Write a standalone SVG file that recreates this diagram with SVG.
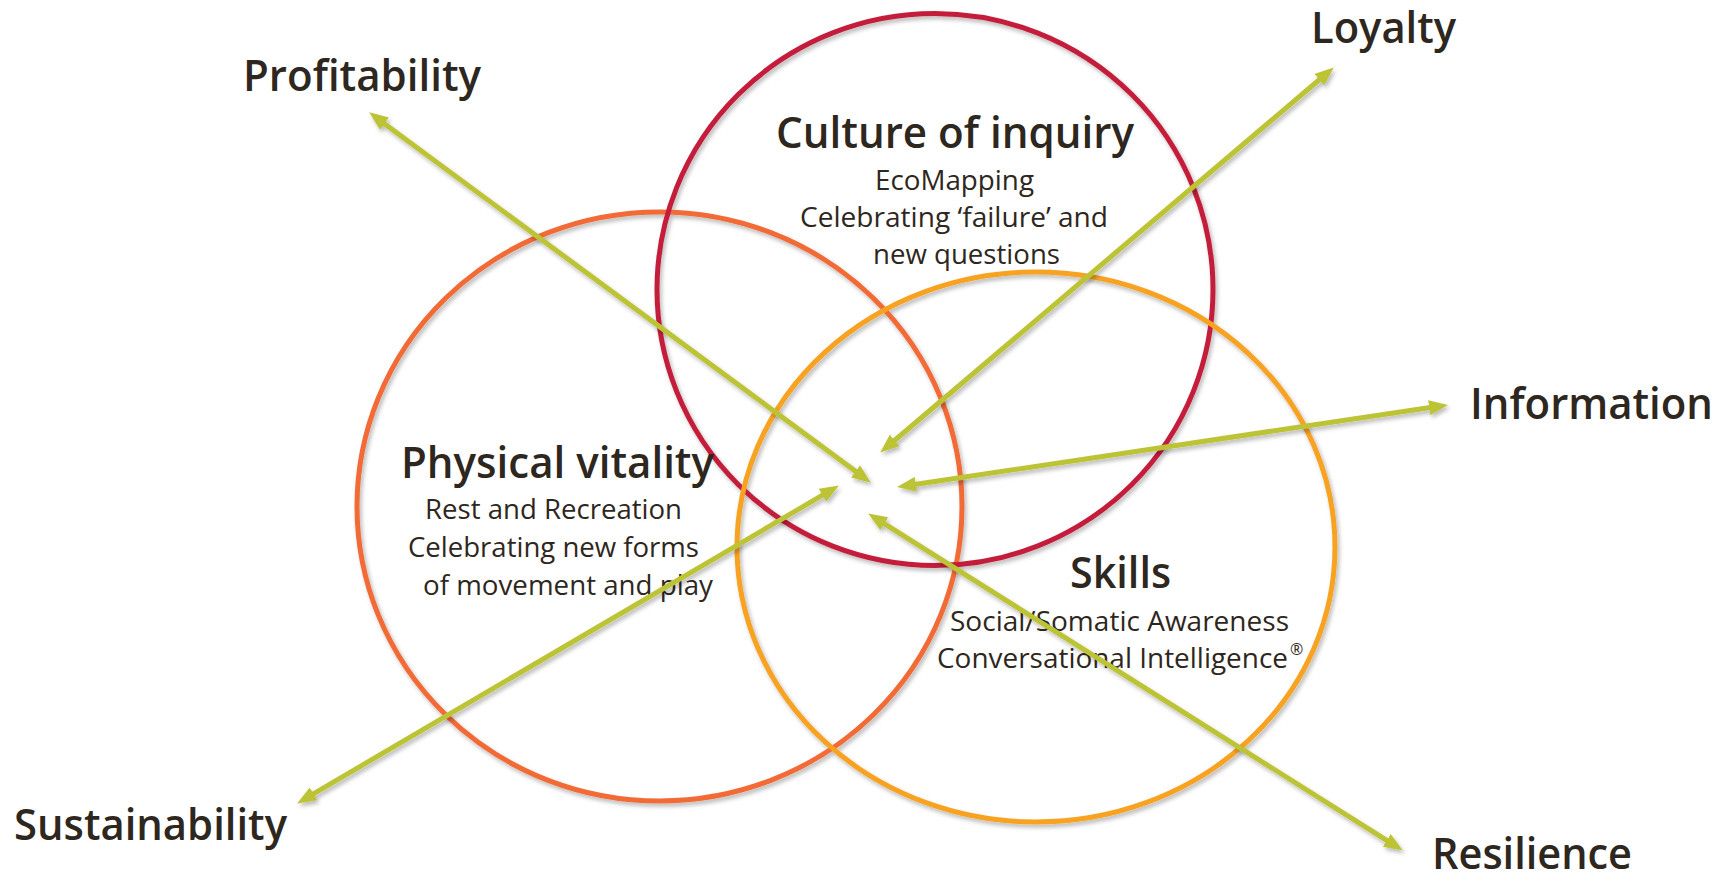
<svg xmlns="http://www.w3.org/2000/svg" width="1729" height="881" viewBox="0 0 1729 881">
<style>
  .ring { fill: none; stroke-width: 5; }
  .t { font-family: "Open Sans", "Liberation Sans", sans-serif; fill: #2E2720; }
  .h { font-size: 43px; font-weight: 600; }
  .s { font-size: 27px; font-weight: 400; }
  .arr { stroke: #BCC334; stroke-width: 5; fill: none; marker-start: url(#ah); marker-end: url(#ah); }
</style>
<defs>
  <filter id="sh" x="-10%" y="-10%" width="120%" height="120%">
    <feDropShadow dx="2" dy="3" stdDeviation="2" flood-color="#000" flood-opacity="0.28"/>
  </filter>
  <marker id="ah" viewBox="0 0 19 15" markerWidth="19" markerHeight="15" refX="8" refY="7.5" markerUnits="userSpaceOnUse" orient="auto-start-reverse">
    <path d="M0,0 L19,7.5 L0,15 Z" fill="#BCC334"/>
  </marker>
</defs>
<rect width="1729" height="881" fill="#FFFFFF"/>

<g id="circles" filter="url(#sh)">
  <ellipse id="ring-physical" class="ring" cx="659.5" cy="506.5" rx="302.5" ry="294.5" stroke="#F26A35"/>
  <ellipse id="ring-culture" class="ring" cx="935" cy="289.5" rx="278" ry="276" stroke="#C41F3A"/>
  <ellipse id="ring-skills" class="ring" cx="1036" cy="547" rx="299" ry="275" stroke="#F8A221"/>
</g>

<g id="node-culture">
  <text class="t h" x="776" y="148" textLength="358" lengthAdjust="spacingAndGlyphs">Culture of inquiry</text>
  <text class="t s" x="875" y="190" textLength="159" lengthAdjust="spacingAndGlyphs">EcoMapping</text>
  <text class="t s" x="800" y="227" textLength="308" lengthAdjust="spacingAndGlyphs">Celebrating ‘failure’ and</text>
  <text class="t s" x="873" y="264" textLength="187" lengthAdjust="spacingAndGlyphs">new questions</text>
</g>

<g id="node-physical">
  <text class="t h" x="401" y="478" textLength="313" lengthAdjust="spacingAndGlyphs">Physical vitality</text>
  <text class="t s" x="425" y="519" textLength="257" lengthAdjust="spacingAndGlyphs">Rest and Recreation</text>
  <text class="t s" x="408" y="557" textLength="291" lengthAdjust="spacingAndGlyphs">Celebrating new forms</text>
  <text class="t s" x="423" y="595" textLength="290" lengthAdjust="spacingAndGlyphs">of movement and play</text>
</g>

<g id="node-skills">
  <text class="t h" x="1070" y="588" textLength="101" lengthAdjust="spacingAndGlyphs">Skills</text>
  <text class="t s" x="950" y="631" textLength="339" lengthAdjust="spacingAndGlyphs">Social/Somatic Awareness</text>
  <text class="t s" x="937" y="668" textLength="351" lengthAdjust="spacingAndGlyphs">Conversational Intelligence</text>
  <text class="t" x="1290" y="655" font-size="16">®</text>
</g>

<g id="label-profitability"><text class="t h" x="243" y="91" textLength="238" lengthAdjust="spacingAndGlyphs">Profitability</text></g>
<g id="label-loyalty"><text class="t h" x="1311" y="43" textLength="145" lengthAdjust="spacingAndGlyphs">Loyalty</text></g>
<g id="label-information"><text class="t h" x="1470" y="419" textLength="243" lengthAdjust="spacingAndGlyphs">Information</text></g>
<g id="label-sustainability"><text class="t h" x="14" y="840" textLength="273" lengthAdjust="spacingAndGlyphs">Sustainability</text></g>
<g id="label-resilience"><text class="t h" x="1432" y="869" textLength="200" lengthAdjust="spacingAndGlyphs">Resilience</text></g>

<g id="connectors" filter="url(#sh)">
  <line class="arr" x1="378" y1="118.9" x2="862" y2="476.1"/>
  <line class="arr" x1="1325.4" y1="74.5" x2="888.6" y2="445.5"/>
  <line class="arr" x1="1437.1" y1="406.5" x2="907.9" y2="485.5"/>
  <line class="arr" x1="306.6" y1="797.9" x2="829.4" y2="491.1"/>
  <line class="arr" x1="1393.5" y1="844.7" x2="877.5" y2="519.3"/>
</g>
</svg>
